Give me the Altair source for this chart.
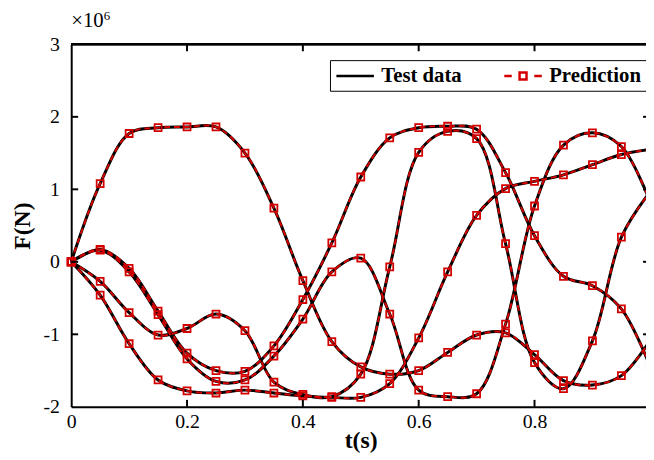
import altair as alt
import pandas as pd

# ---------------- data (F in units of 1e6 N) ----------------
t_values = [0.0, 0.05, 0.1, 0.15, 0.2, 0.25, 0.3, 0.35, 0.4, 0.45, 0.5,
            0.55, 0.6, 0.65, 0.7, 0.75, 0.8, 0.85, 0.9, 0.95, 1.0]
curve_a = [0, 1.08, 1.77, 1.85, 1.86, 1.86, 1.50, 0.74, -0.26, -1.10, -1.45,
           -1.55, -1.50, -1.25, -1.01, -0.98, -1.28, -1.64, -1.70, -1.57, -1.08]
curve_b = [0, 0.17, -0.09, -0.68, -1.26, -1.50, -1.51, -1.16, -0.52, 0.26, 1.17,
           1.71, 1.85, 1.87, 1.83, 1.23, 0.36, -0.20, -0.33, -0.65, -1.45]
curve_c = [0, 0.16, -0.14, -0.73, -1.34, -1.65, -1.63, -1.30, -0.79, -0.14, 0.05,
           -0.72, -1.77, -1.86, -1.82, -0.86, 0.77, 1.61, 1.78, 1.59, 0.82]
curve_d = [0, -0.27, -0.70, -1.01, -0.92, -0.72, -0.95, -1.66, -1.83, -1.86, -1.55,
           -0.07, 1.51, 1.80, 1.70, 0.25, -1.39, -1.75, -1.09, 0.34, 0.97]
curve_e = [0, -0.46, -1.13, -1.63, -1.78, -1.81, -1.77, -1.81, -1.85, -1.87, -1.87,
           -1.68, -1.05, -0.14, 0.64, 1.01, 1.11, 1.20, 1.34, 1.48, 1.55]

series_names = ["Test data", "Prediction"]
x_tick_values = [0, 0.2, 0.4, 0.6, 0.8]
y_tick_values = [-2, -1, 0, 1, 2, 3]
x_inner_ticks = [0.2, 0.4, 0.6, 0.8]
y_inner_ticks = [-1, 0, 1, 2]

curves = {"A": curve_a, "B": curve_b, "C": curve_c, "D": curve_d, "E": curve_e}
rows = []
for name, vals in curves.items():
    for t, f in zip(t_values, vals):
        rows.append({"curve": name, "t": t, "F": f})
df = pd.DataFrame(rows)

RED = "#d40000"
FONT = "Liberation Serif"
W, H = 582, 367

xs = alt.Scale(domain=[0, 0.9925], nice=False, zero=False)
ys = alt.Scale(domain=[-2, 3], nice=False, zero=False)

x_axis = alt.Axis(values=x_tick_values, labelExpr="datum.value + ''", ticks=False, tickSize=0,
                  grid=False, domain=True, domainColor="black", domainWidth=2,
                  labelFont=FONT, labelFontSize=20, labelColor="black", labelPadding=5,
                  labelFlush=False, labelOverlap=False,
                  title="t(s)", titleFont=FONT, titleFontSize=24, titleFontWeight="bold",
                  titleColor="black", titleBaseline="alphabetic", titleY=41, titleX=293)
y_axis = alt.Axis(values=y_tick_values, labelExpr="datum.value + ''", ticks=False, tickSize=0,
                  grid=False, domain=True, domainColor="black", domainWidth=2,
                  labelFont=FONT, labelFontSize=20, labelColor="black", labelPadding=12,
                  labelFlush=False, labelOverlap=False,
                  title="F(N)", titleFont=FONT, titleFontSize=24, titleFontWeight="bold",
                  titleColor="black", titleX=-49, titleY=183.5, titleAngle=270,
                  titleAlign="center", titleBaseline="middle")

X = lambda f: alt.X(f, scale=xs, axis=x_axis)
Y = lambda f: alt.Y(f, scale=ys, axis=y_axis)

black = alt.Chart(df).mark_line(color="black", strokeWidth=3, interpolate="catmull-rom").encode(
    x=X("t:Q"), y=Y("F:Q"), detail="curve:N")
red = alt.Chart(df).mark_line(color=RED, strokeWidth=2, strokeDash=[6, 4],
                              interpolate="catmull-rom").encode(
    x=X("t:Q"), y=Y("F:Q"), detail="curve:N")
pts = alt.Chart(df).mark_point(shape="square", filled=False, color=RED, size=50,
                               strokeWidth=1.8, opacity=1).encode(x=X("t:Q"), y=Y("F:Q"))

xt = pd.DataFrame({"t": x_inner_ticks})
yt = pd.DataFrame({"F": y_inner_ticks})
top_frame = alt.Chart(xt).mark_rule(color="black", strokeWidth=2).encode(
    x=alt.value(0), x2=alt.value(W), y=alt.value(0))
top_ticks = alt.Chart(xt).mark_rule(color="black", strokeWidth=2).encode(
    x=X("t:Q"), y=alt.value(0), y2=alt.value(7))
bottom_ticks = alt.Chart(xt).mark_rule(color="black", strokeWidth=2).encode(
    x=X("t:Q"), y=alt.value(H), y2=alt.value(H - 7))
left_ticks = alt.Chart(yt).mark_rule(color="black", strokeWidth=2).encode(
    y=Y("F:Q"), x=alt.value(0), x2=alt.value(7))
right_ticks = alt.Chart(yt).mark_rule(color="black", strokeWidth=2).encode(
    y=Y("F:Q"), x=alt.value(579), x2=alt.value(586))

sci = alt.Chart(pd.DataFrame({"s": ["×10"]})).mark_text(
    font=FONT, fontSize=21, align="left", baseline="alphabetic", color="black").encode(
    text="s:N", x=alt.value(0), y=alt.value(-18))
sci_exp = alt.Chart(pd.DataFrame({"s": ["6"]})).mark_text(
    font=FONT, fontSize=13, align="left", baseline="alphabetic", color="black").encode(
    text="s:N", x=alt.value(33), y=alt.value(-25))

path_line = "M-1,0H3"
path_pred = "M-1,0H-0.2M0.63,-0.37H1.37V0.37H0.63ZM2.2,0H3"
leg = alt.Legend(orient="none", legendX=262, legendY=16, direction="horizontal", title=None,
                 strokeColor="black", fillColor="white", padding=5,
                 symbolSize=361, symbolStrokeWidth=2.5, symbolOpacity=1,
                 symbolFillColor="transparent",
                 labelFont=FONT, labelFontSize=21, labelFontWeight="bold", labelColor="black",
                 labelOffset=25, columnPadding=37, labelLimit=0)
leg_df = pd.DataFrame({"series": series_names, "t": [0.5, 0.5], "F": [0.0, 0.0]})
legend_layer = alt.Chart(leg_df).mark_point(filled=False, opacity=0).encode(
    x=X("t:Q"), y=Y("F:Q"),
    shape=alt.Shape("series:N", scale=alt.Scale(domain=series_names, range=[path_line, path_pred]),
                    legend=leg),
    stroke=alt.Stroke("series:N", scale=alt.Scale(domain=series_names, range=["black", RED]),
                      legend=leg),
)

chart = alt.layer(black, red, pts, top_frame, top_ticks, bottom_ticks, left_ticks, right_ticks,
                  sci, sci_exp, legend_layer).properties(
    width=W, height=H,
    autosize=alt.AutoSizeParams(type="none"),
    padding={"left": 64, "top": 34, "right": 0, "bottom": 45},
    background="white",
).configure_view(stroke=None)

chart.save("out.html", embed_options={"renderer": "svg", "actions": False})
